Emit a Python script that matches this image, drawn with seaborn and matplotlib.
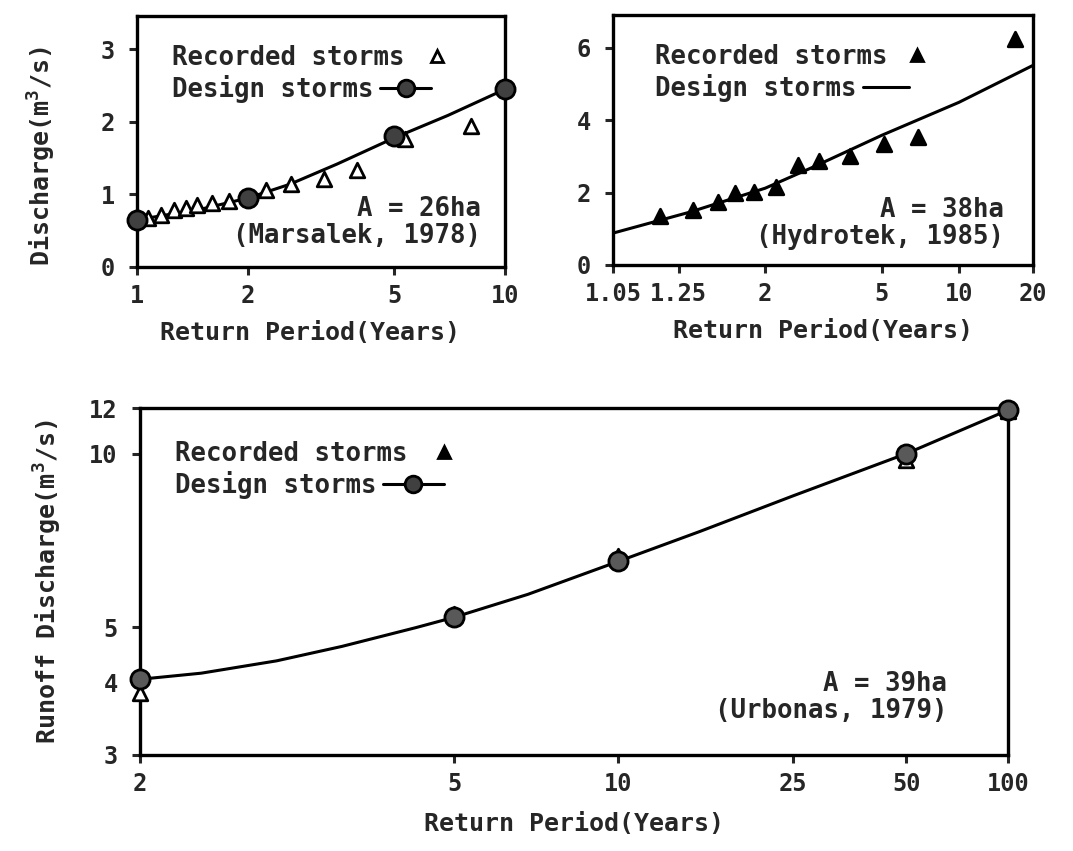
"""
Design storms vs recorded storms: peak discharge frequency curves
for three catchments (Marsalek 1978, Hydrotek 1985, Urbonas 1979).
Output: out.png
"""

import numpy as np
import matplotlib
matplotlib.use("Agg")
import matplotlib.pyplot as plt
import seaborn as sns
from matplotlib.lines import Line2D
from matplotlib.ticker import NullLocator
from statistics import NormalDist

# ------------------------------------------------------------
# data
# ------------------------------------------------------------
# Marsalek, 1978 (A = 26 ha) -- log return period axis
mars_rec_T = [1.07, 1.16, 1.26, 1.36, 1.46, 1.60, 1.78, 2.24, 2.62, 3.23, 3.96, 5.34, 8.1]
mars_rec_Q = [0.68, 0.72, 0.78, 0.82, 0.86, 0.88, 0.91, 1.06, 1.14, 1.21, 1.34, 1.77, 1.95]
mars_des_T = [1, 2, 5, 10]
mars_des_Q = [0.65, 0.95, 1.80, 2.45]
mars_curve_T = [1, 1.5, 2, 2.6, 3.5, 5, 7, 10]
mars_curve_Q = [0.65, 0.80, 0.95, 1.14, 1.42, 1.78, 2.09, 2.45]

# Hydrotek, 1985 (A = 38 ha) -- Gumbel return period axis
hydro_rec_T = [1.17, 1.33, 1.50, 1.65, 1.86, 2.15, 2.53, 2.97, 3.8, 5.1, 6.9, 16.8]
hydro_rec_Q = [1.36, 1.52, 1.73, 2.00, 2.01, 2.15, 2.75, 2.86, 3.02, 3.35, 3.53, 6.23]
hydro_curve_T = [1.05, 1.31, 2, 2.83, 5, 10, 20]
hydro_curve_Q = [0.88, 1.46, 2.12, 2.70, 3.58, 4.49, 5.51]

# Urbonas, 1979 (A = 39 ha) -- normal probability / log discharge axes
urb_T = [2, 5, 10, 50, 100]
urb_des_Q = [4.06, 5.20, 6.50, 10.0, 11.9]
urb_rec_Q = [3.84, 5.26, 6.65, 9.75, 11.85]
urb_curve_T = [2, 2.3, 2.8, 3.4, 4.35, 5, 6.7, 10, 15, 25, 50, 100]
urb_curve_Q = [4.06, 4.16, 4.37, 4.63, 4.99, 5.20, 5.70, 6.50, 7.33, 8.45, 10.0, 11.9]

LEGEND_LABELS = ["Recorded storms", "Design storms"]
XLABEL = "Return Period(Years)"


# ------------------------------------------------------------
# probability scales for the return period axis
# ------------------------------------------------------------
def gumbel_fwd(t):
    t = np.clip(np.asarray(t, dtype=float), 1.0001, 1e7)
    return -np.log(-np.log(1.0 - 1.0 / t))


def gumbel_inv(u):
    u = np.asarray(u, dtype=float)
    return 1.0 / (1.0 - np.exp(-np.exp(-u)))


_nd = NormalDist()
_inv_cdf = np.vectorize(_nd.inv_cdf, otypes=[float])
_cdf = np.vectorize(_nd.cdf, otypes=[float])


def normal_fwd(t):
    t = np.clip(np.asarray(t, dtype=float), 1.0001, 1e7)
    return _inv_cdf(1.0 - 1.0 / t)


def normal_inv(z):
    p = np.clip(_cdf(np.asarray(z, dtype=float)), 0.0, 1 - 1e-12)
    return 1.0 / (1.0 - p)


# ------------------------------------------------------------
# style
# ------------------------------------------------------------
sns.set_style("ticks")
plt.rcParams.update({
    "font.family": ["DejaVu Sans Mono"],
    "font.weight": "bold",
    "mathtext.fontset": "custom",
    "mathtext.rm": "DejaVu Sans Mono:bold",
    "mathtext.default": "regular",
    "axes.linewidth": 2.4,
    "axes.edgecolor": "black",
    "xtick.major.width": 2.2,
    "ytick.major.width": 2.2,
    "xtick.major.size": 6,
    "ytick.major.size": 6,
    "xtick.direction": "out",
    "ytick.direction": "out",
    "xtick.labelsize": 17,
    "ytick.labelsize": 17,
    "axes.labelsize": 18,
    "axes.labelweight": "bold",
})

TXT = 18.5
LW = 2.2

fig = plt.figure(figsize=(10.73, 8.51), dpi=100)
W, H = 1073, 851


def add_axes(left, right, top, bottom):
    return fig.add_axes([left / W, 1 - bottom / H, (right - left) / W, (bottom - top) / H])


ax1 = add_axes(137, 505, 16, 267)
ax2 = add_axes(613, 1033, 15, 265)
ax3 = add_axes(140, 1008, 408, 755)


def rec_handle(face):
    return Line2D([], [], ls="none", marker="^", ms=9, mfc=face, mec="black", mew=2)


def des_handle(with_marker=True):
    if with_marker:
        return Line2D([], [], color="black", lw=LW, marker="o", ms=12,
                      mfc="0.25", mec="black", mew=2)
    return Line2D([], [], color="black", lw=LW)


def add_legend(ax, handles, anchor, hlen=2.0):
    leg = ax.legend(handles, LEGEND_LABELS, loc="upper left", bbox_to_anchor=anchor,
                    frameon=False, markerfirst=False, handlelength=hlen,
                    handletextpad=0.25, labelspacing=0.15, borderaxespad=0,
                    borderpad=0, prop={"size": TXT, "weight": "bold"})
    # labels start at the same left edge, symbol right after each label
    for col in leg._legend_handle_box.get_children():
        col.align = "left"
    return leg


def note(ax, x, y, s):
    ax.text(x, y, s, transform=ax.transAxes, ha="right", va="bottom",
            multialignment="right", fontsize=TXT, fontweight="bold",
            linespacing=1.05)


# ---------------- panel 1: Marsalek ----------------
sns.lineplot(x=mars_curve_T, y=mars_curve_Q, color="black", lw=LW, ax=ax1)
sns.scatterplot(x=mars_rec_T, y=mars_rec_Q, marker="^", s=110, color="white",
                edgecolor="black", linewidth=2, ax=ax1, zorder=3, clip_on=False)
sns.scatterplot(x=mars_des_T, y=mars_des_Q, marker="o", s=190, color="0.25",
                edgecolor="black", linewidth=2, ax=ax1, zorder=4, clip_on=False)
ax1.set_xscale("log")
ax1.set_xlim(1, 10)
ax1.set_ylim(0, 3.46)
ax1.set_xticks([1, 2, 5, 10], ["1", "2", "5", "10"])
ax1.xaxis.set_minor_locator(NullLocator())
ax1.set_yticks([0, 1, 2, 3])
ax1.set_xlabel(XLABEL)
ax1.set_ylabel("Discharge(m$^{3}$/s)")
ax1.yaxis.set_label_coords(-0.215, 0.44)
ax1.xaxis.set_label_coords(0.47, -0.215)
add_legend(ax1, [rec_handle("white"), des_handle()], (0.095, 0.885), hlen=2.0)
note(ax1, 0.935, 0.07, "A = 26ha\n(Marsalek, 1978)")

# ---------------- panel 2: Hydrotek ----------------
sns.lineplot(x=hydro_curve_T, y=hydro_curve_Q, color="black", lw=LW, ax=ax2)
sns.scatterplot(x=hydro_rec_T, y=hydro_rec_Q, marker="^", s=110, color="black",
                edgecolor="black", linewidth=2, ax=ax2, zorder=3, clip_on=False)
ax2.set_xscale("function", functions=(gumbel_fwd, gumbel_inv))
ax2.set_xlim(1.05, 20)
ax2.set_ylim(0, 6.9)
ax2.set_xticks([1.05, 1.25, 2, 5, 10, 20], ["1.05", "1.25", "2", "5", "10", "20"])
ax2.xaxis.set_minor_locator(NullLocator())
ax2.set_yticks([0, 2, 4, 6])
ax2.set_xlabel(XLABEL)
ax2.xaxis.set_label_coords(0.5, -0.215)
add_legend(ax2, [rec_handle("black"), des_handle(False)], (0.1, 0.885), hlen=1.8)
note(ax2, 0.93, 0.06, "A = 38ha\n(Hydrotek, 1985)")

# ---------------- panel 3: Urbonas ----------------
sns.lineplot(x=urb_curve_T, y=urb_curve_Q, color="black", lw=LW, ax=ax3)
sns.scatterplot(x=urb_T, y=urb_rec_Q, marker="^", s=110, color="white",
                edgecolor="black", linewidth=2, ax=ax3, zorder=3, clip_on=False)
sns.scatterplot(x=urb_T, y=urb_des_Q, marker="o", s=190, color="0.35",
                edgecolor="black", linewidth=2, ax=ax3, zorder=4, clip_on=False)
ax3.set_xscale("function", functions=(normal_fwd, normal_inv))
ax3.set_yscale("log")
ax3.set_xlim(2, 100)
ax3.set_ylim(3, 12)
ax3.set_xticks([2, 5, 10, 25, 50, 100], ["2", "5", "10", "25", "50", "100"])
ax3.set_yticks([3, 4, 5, 10, 12], ["3", "4", "5", "10", "12"])
ax3.xaxis.set_minor_locator(NullLocator())
ax3.yaxis.set_minor_locator(NullLocator())
ax3.set_xlabel(XLABEL)
ax3.set_ylabel("Runoff Discharge(m$^{3}$/s)")
ax3.yaxis.set_label_coords(-0.088, 0.5)
ax3.xaxis.set_label_coords(0.5, -0.165)
add_legend(ax3, [rec_handle("black"), des_handle()], (0.04, 0.905), hlen=2.4)
note(ax3, 0.93, 0.09, "A = 39ha\n(Urbonas, 1979)")

for ax in (ax1, ax2, ax3):
    for side in ("top", "right"):
        ax.spines[side].set_visible(True)
    ax.tick_params(axis="y", pad=10)
    ax.tick_params(axis="x", pad=6)
    for lab in ax.get_xticklabels() + ax.get_yticklabels():
        lab.set_fontweight("bold")

fig.savefig("out.png", dpi=100)
plt.close(fig)
